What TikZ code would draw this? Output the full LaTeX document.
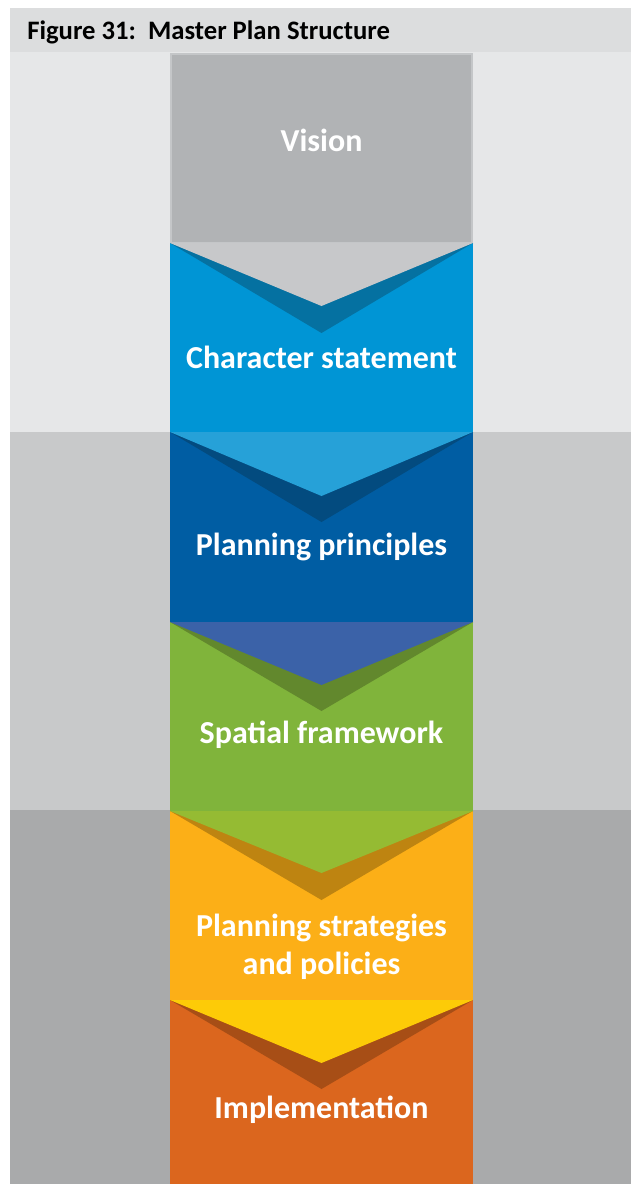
\documentclass[tikz,border=0pt]{standalone}
\usepackage{fontspec}
\setmainfont{Carlito}
\usetikzlibrary{calc}

\definecolor{headgrey}{HTML}{DCDDDE}
\definecolor{bandlight}{HTML}{E6E7E8}
\definecolor{bandmid}{HTML}{C8C9CA}
\definecolor{banddark}{HTML}{A9AAAB}
\definecolor{visiongrey}{HTML}{B1B3B5}
\definecolor{visionedge}{HTML}{C4C6C8}
\definecolor{chargrey}{HTML}{C7C8CA}
\definecolor{charblue}{HTML}{0095D5}
\definecolor{chardark}{HTML}{0571A1}
\definecolor{princlight}{HTML}{26A1D8}
\definecolor{princblue}{HTML}{005DA3}
\definecolor{princdark}{HTML}{034B7F}
\definecolor{spatlight}{HTML}{3B62A8}
\definecolor{spatgreen}{HTML}{80B43B}
\definecolor{spatdark}{HTML}{62882D}
\definecolor{stratlight}{HTML}{95BB33}
\definecolor{stratorange}{HTML}{FCAF17}
\definecolor{stratdark}{HTML}{BE8411}
\definecolor{impllight}{HTML}{FDCB07}
\definecolor{implorange}{HTML}{DB661E}
\definecolor{impldark}{HTML}{A74E16}

\tikzset{
  stagetext/.style={text=white, font=\bfseries\fontsize{24}{28.5}\selectfont, align=center},
  headtext/.style={anchor=base west, inner sep=0pt, font=\bfseries\fontsize{20}{24}\selectfont}
}

\begin{document}
\begin{tikzpicture}[x=0.75pt,y=-0.75pt]
    \useasboundingbox (0,0) rectangle (631,1184);
    % backdrop
    \fill [headgrey] (10,8) rectangle (631,52);
    \fill [bandlight] (10,52) rectangle (631,432);
    \fill [bandmid] (10,432) rectangle (631,810);
    \fill [banddark] (10,810) rectangle (631,1184);
    \node [headtext] (title) at (27,40) {Figure 31:\ \ Master Plan Structure};

    % stage boxes
    \draw [fill = visiongrey, draw = visionedge, line width = 1.2pt] (171,54) rectangle (472,243);
    \fill [charblue] (170,243) rectangle (473,432);
    \fill [princblue] (170,432) rectangle (473,622);
    \fill [spatgreen] (170,622) rectangle (473,811);
    \fill [stratorange] (170,811) rectangle (473,1000);
    \fill [implorange] (170,1000) rectangle (473,1184);

    % chevrons
    \fill [chardark] (170,243) -- (473,243) -- (321.5,333) -- cycle;
    \fill [chargrey] (170,243) -- (473,243) -- (321.5,306) -- cycle;
    \fill [princdark] (170,432) -- (473,432) -- (321.5,522) -- cycle;
    \fill [princlight] (170,432) -- (473,432) -- (321.5,496) -- cycle;
    \fill [spatdark] (170,622) -- (473,622) -- (321.5,711) -- cycle;
    \fill [spatlight] (170,622) -- (473,622) -- (321.5,685) -- cycle;
    \fill [stratdark] (170,811) -- (473,811) -- (321.5,900) -- cycle;
    \fill [stratlight] (170,811) -- (473,811) -- (321.5,873) -- cycle;
    \fill [impldark] (170,1000) -- (473,1000) -- (321.5,1089) -- cycle;
    \fill [impllight] (170,1000) -- (473,1000) -- (321.5,1063) -- cycle;

    % labels
    \node [stagetext] (vision) at (321.5,140) {Vision};
    \node [stagetext] (character) at (321.5,357) {Character statement};
    \node [stagetext] (principles) at (321.5,547) {Planning principles};
    \node [stagetext] (spatial) at (321.5,735) {Spatial framework};
    \node [stagetext] (strategies) at (321.5,947) {Planning strategies\\and policies};
    \node [stagetext] (implement) at (321.5,1110) {Implementation};
  \end{tikzpicture}
\end{document}
